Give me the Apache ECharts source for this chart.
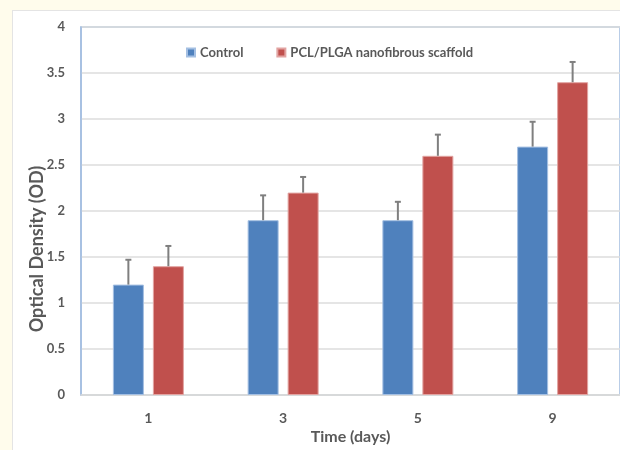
<!DOCTYPE html>
<html>
<head>
<meta charset="utf-8">
<script src="https://cdn.jsdelivr.net/npm/echarts@6/dist/echarts.min.js"></script>
<style>
  html, body { margin: 0; padding: 0; background: #fffcec; }
  #panel { position: absolute; left: 12px; top: 10px; width: 620px; height: 450px; background: #ffffff; border: 1px solid #e4e4e4; }
  #chart { position: absolute; left: 0; top: 0; width: 620px; height: 450px; }
</style>
</head>
<body>
<div id="panel"></div>
<div id="chart"></div>
<script>
const categories = ['1', '3', '5', '9'];
const seriesNames = ['Control', 'PCL/PLGA nanofibrous scaffold'];
const controlValues = [1.2, 1.9, 1.9, 2.7];
const controlErrors = [0.27, 0.27, 0.2, 0.27];
const scaffoldValues = [1.4, 2.2, 2.6, 3.4];
const scaffoldErrors = [0.22, 0.17, 0.23, 0.22];
const yTickMin = 0, yTickMax = 4, yTickStep = 0.5;

const BAR_W = 31, BAR_GAP = 9;
const colors = ['#4f81bd', '#c0504d'];
const borderColors = ['#a4bfe2', '#e2a4a2'];
const font = 'Lato, "Open Sans", sans-serif';

function errorSeries(values, errors, sign) {
  return {
    type: 'custom',
    silent: true,
    z: 5,
    data: values.map((v, i) => [i, v, v + errors[i]]),
    renderItem: function (params, api) {
      const idx = api.value(0);
      const base = api.coord([idx, api.value(1)]);
      const top = api.coord([idx, api.value(2)]);
      const x = base[0] + sign * (BAR_W + BAR_GAP) / 2;
      const cap = 3;
      const st = { stroke: '#7f7f7f', lineWidth: 2 };
      return {
        type: 'group',
        children: [
          { type: 'line', shape: { x1: x, y1: base[1], x2: x, y2: top[1] }, style: st },
          { type: 'line', shape: { x1: x - cap, y1: top[1], x2: x + cap, y2: top[1] }, style: st }
        ]
      };
    }
  };
}

const chart = echarts.init(document.getElementById('chart'), null, { renderer: 'canvas' });
chart.setOption({
  backgroundColor: 'transparent',
  animation: false,
  grid: { left: 81, top: 27, right: -7, bottom: 53, show: true, borderColor: '#a3bde0', borderWidth: 1.5, backgroundColor: 'transparent' },
  legend: {
    data: seriesNames,
    left: 181,
    top: 41,
    itemWidth: 8,
    itemHeight: 8,
    itemGap: 33,
    icon: 'rect',
    textStyle: { fontFamily: font, fontSize: 13, fontWeight: 'bold', color: '#595959' }
  },
  xAxis: {
    type: 'category',
    data: categories,
    name: 'Time (days)',
    nameLocation: 'middle',
    nameGap: 34,
    nameMoveOverlap: false,
    nameTextStyle: { fontFamily: font, fontSize: 16, fontWeight: 'bold', color: '#595959' },
    axisLine: { lineStyle: { color: '#d9d9d9', width: 1.5 } },
    axisTick: { show: false },
    axisLabel: { margin: 16, fontFamily: font, fontSize: 14, fontWeight: 'bold', color: '#595959' }
  },
  yAxis: {
    type: 'value',
    min: yTickMin,
    max: yTickMax,
    interval: yTickStep,
    name: 'Optical Density (OD)',
    nameLocation: 'middle',
    nameGap: 35,
    nameMoveOverlap: false,
    nameTextStyle: { fontFamily: font, fontSize: 18, fontWeight: 'bold', color: '#595959', padding: [0, 76, 0, 0] },
    axisLine: { show: true, lineStyle: { color: '#a3bde0', width: 1.5 } },
    axisTick: { show: false },
    axisLabel: { margin: 16, fontFamily: font, fontSize: 13, fontWeight: 'bold', color: '#595959' },
    splitLine: { lineStyle: { color: '#dcdcdc', width: 1.5 } }
  },
  series: [
    {
      name: seriesNames[0], type: 'bar', data: controlValues, barWidth: BAR_W, barGap: (BAR_GAP / BAR_W * 100) + '%',
      itemStyle: { color: colors[0], borderColor: borderColors[0], borderWidth: 1 }
    },
    {
      name: seriesNames[1], type: 'bar', data: scaffoldValues, barWidth: BAR_W,
      itemStyle: { color: colors[1], borderColor: borderColors[1], borderWidth: 1 }
    },
    errorSeries(controlValues, controlErrors, -1),
    errorSeries(scaffoldValues, scaffoldErrors, 1)
  ]
});
</script>
</body>
</html>
